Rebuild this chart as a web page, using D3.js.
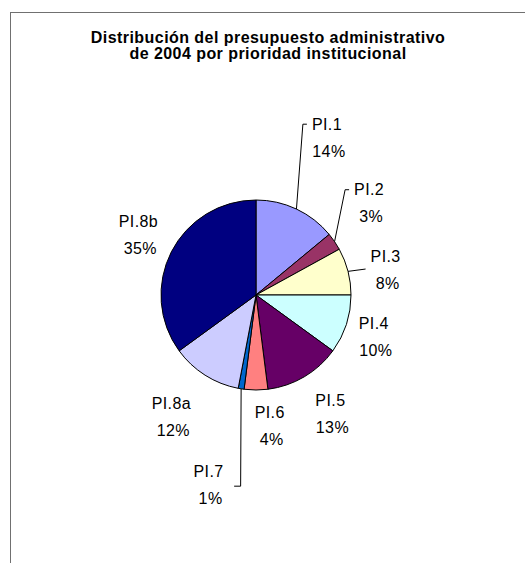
<!DOCTYPE html>
<html>
<head>
<meta charset="utf-8">
<script src="https://cdn.jsdelivr.net/npm/d3@7"></script>
<style>
  body { margin: 0; background: #fff; }
  text { font-family: "Liberation Sans", Arial, sans-serif; fill: #000; }
</style>
</head>
<body>
<svg id="chart" width="525" height="563"></svg>
<script>
// data
const categories = ["PI.1", "PI.2", "PI.3", "PI.4", "PI.5", "PI.6", "PI.7", "PI.8a", "PI.8b"];
const values = [14, 3, 8, 10, 13, 4, 1, 12, 35];
const colors = ["#9999FF", "#993366", "#FFFFCC", "#CCFFFF", "#660066", "#FF8080", "#0066CC", "#CCCCFF", "#000080"];
const titleLines = ["Distribución del presupuesto administrativo", "de 2004 por prioridad institucional"];

// where excel dropped each label: [distance from centre, angle tweak in degrees]
const labelPlace = [[173, -1], [146, -5], [132, 3.5], [125, 1.5], [140, -1.5], [131, -6], [196, 5], [148, 2.5], [132, 0]];
const leader = [true, true, true, false, false, false, true, false, false];

const svg = d3.select("#chart");
const cx = 256, cy = 295, r = 95;

// frame (only top/left edges are inside the window)
svg.append("rect")
  .attr("x", 10.5).attr("y", 12.5)
  .attr("width", 600).attr("height", 600)
  .attr("fill", "none")
  .attr("stroke", "#707070");

svg.append("g")
  .selectAll("text")
  .data(titleLines)
  .enter().append("text")
  .attr("x", 268)
  .attr("y", (d, i) => 43 + i * 16)
  .attr("text-anchor", "middle")
  .attr("font-size", "16px")
  .attr("letter-spacing", "0.45px")
  .attr("font-weight", "bold")
  .text(d => d);

const pie = d3.pie().sort(null).value(d => d.value);
const arcs = pie(categories.map((c, i) => ({ name: c, value: values[i], color: colors[i] })));
const arc = d3.arc().innerRadius(0).outerRadius(r);

const g = svg.append("g").attr("transform", `translate(${cx},${cy})`);

g.selectAll("path")
  .data(arcs)
  .enter().append("path")
  .attr("d", arc)
  .attr("fill", d => d.data.color)
  .attr("stroke", "#000")
  .attr("stroke-width", 1);

const total = d3.sum(values);
const toRad = Math.PI / 180;

arcs.forEach((d, i) => {
  const mid = (d.startAngle + d.endAngle) / 2;
  const a = mid + labelPlace[i][1] * toRad;
  const lx = Math.sin(a) * labelPlace[i][0];
  const ly = -Math.cos(a) * labelPlace[i][0];

  const lab = g.append("g").attr("transform", `translate(${lx},${ly})`);
  lab.append("text")
    .attr("text-anchor", "middle")
    .attr("y", -13.5 + 5.8)
    .attr("font-size", "16px")
    .attr("letter-spacing", "0.4px")
    .text(d.data.name);
  lab.append("text")
    .attr("text-anchor", "middle")
    .attr("x", 2)
    .attr("y", 13.5 + 5.8)
    .attr("font-size", "16px")
    .attr("letter-spacing", "0.4px")
    .text(Math.round(d.data.value / total * 100) + "%");

  if (leader[i]) {
    const bb = lab.node().getBBox();
    const ex = Math.sin(mid) * r, ey = -Math.cos(mid) * r;
    let pts;
    if (lx > 0) {
      // label to the right: go up to its left side then a small tick
      const tx = lx + bb.x - 4;
      const ty = ly;
      pts = Math.abs(ty - ey) < 8
        ? [[ex, ey], [tx - 1, ty - 1]]
        : [[ex, ey], [tx - 5, ty - 13], [tx - 1, ty - 13]];
    } else {
      // label below-left: drop straight down then tick to the left
      const ty = ly + 1;
      pts = [[ex, ey], [ex - 0.5, ty], [ex - 7, ty]];
    }
    g.append("path")
      .attr("d", d3.line()(pts))
      .attr("fill", "none")
      .attr("stroke", "#000")
      .attr("stroke-width", 1);
  }
});
</script>
</body>
</html>
